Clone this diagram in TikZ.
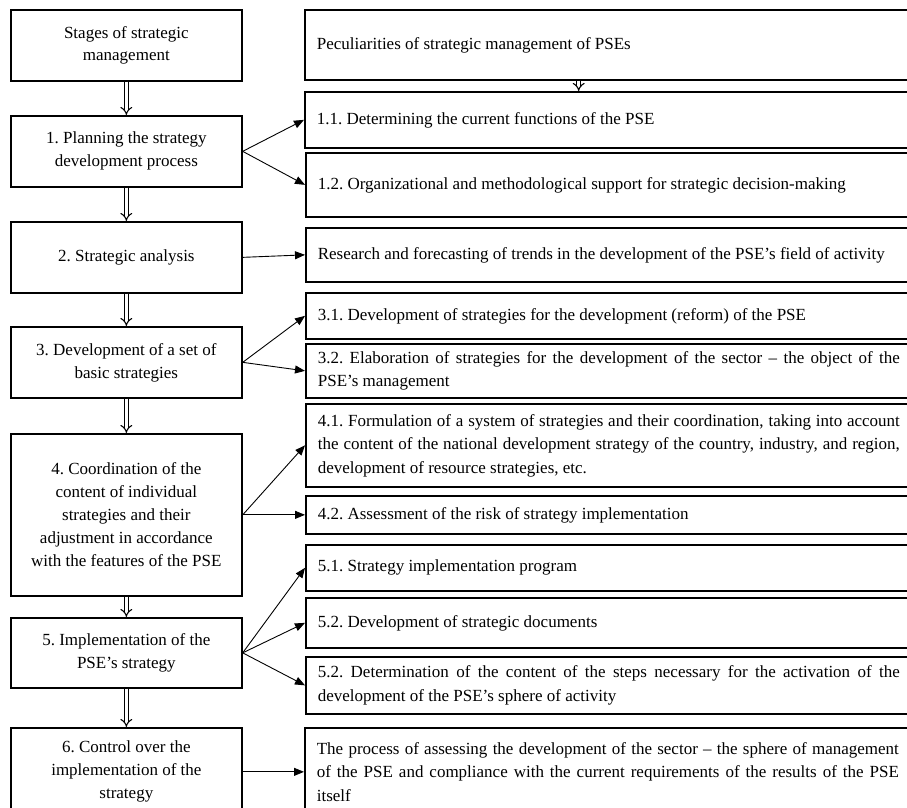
\documentclass[tikz,border=0pt]{standalone}
\usepackage{fontspec}
\setmainfont{Liberation Serif}
\usetikzlibrary{arrows.meta,calc}
\frenchspacing
\begin{document}
\begin{tikzpicture}[x=1pt,y=-1pt,
 lbox/.style={draw, line width=1.7pt, anchor=north west, minimum width=231pt, inner sep=0pt, align=center, font=\fontsize{17}{23}\selectfont},
 rbox/.style={draw, line width=1.7pt, anchor=north west, inner xsep=12pt, inner ysep=0pt, text width=582pt, align=justify, font=\fontsize{17}{23.5}\selectfont},
 arr/.style={line width=0.9pt, -{Triangle[length=10pt,width=8pt]}},
 dbl/.style={double, double distance=3pt, line width=1.1pt, -{Implies}}]
\useasboundingbox (0,0) rectangle (907,808);
\clip (0,0) rectangle (907,808);
% left column
\node[lbox, minimum height=71pt] (s0) at (10,9) {Stages of strategic\\management};
\node[lbox, minimum height=71pt] (s1) at (10,115) {1. Planning the strategy\\development process};
\node[lbox, minimum height=71pt] (s2) at (10,221) {2. Strategic analysis};
\node[lbox, minimum height=71pt] (s3) at (10,326) {3. Development of a set of\\basic strategies};
\node[lbox, minimum height=162pt] (s4) at (10,433) {4. Coordination of the\\content of individual\\strategies and their\\adjustment in accordance\\with the features of the PSE};
\node[lbox, minimum height=70pt] (s5) at (10,617) {5. Implementation of the\\PSE’s strategy};
\node[lbox, minimum height=88pt] (s6) at (10,727) {6. Control over the\\implementation of the\\strategy};
% right column
\node[rbox, minimum height=70pt] (pec) at (304,9) {Peculiarities of strategic management of PSEs};
\node[rbox, minimum height=56pt] (r11) at (304,91) {1.1. Determining the current functions of the PSE};
\node[rbox, minimum height=64pt] (r12) at (305,152) {1.2. Organizational and methodological support for strategic decision-making};
\node[rbox, minimum height=54pt] (rres) at (305,227) {Research and forecasting of trends in the development of the PSE’s field of activity};
\node[rbox, minimum height=46pt] (r31) at (305,292) {3.1. Development of strategies for the development (reform) of the PSE};
\node[rbox, minimum height=54pt] (r32) at (305,343) {3.2. Elaboration of strategies for the development of the sector -- the object of the\linebreak PSE’s management};
\node[rbox, minimum height=83pt] (r41) at (305,403) {4.1. Formulation of a system of strategies and their coordination, taking into account\linebreak the content of the national development strategy of the country, industry, and region,\linebreak development of resource strategies, etc.};
\node[rbox, minimum height=38pt] (r42) at (305,495) {4.2. Assessment of the risk of strategy implementation};
\node[rbox, minimum height=46pt] (r51) at (305,544) {5.1. Strategy implementation program};
\node[rbox, minimum height=50pt] (r52) at (305,597) {5.2. Development of strategic documents};
\node[rbox, minimum height=57pt] (r53) at (305,656) {5.2. Determination of the content of the steps necessary for the activation of the\linebreak development of the PSE’s sphere of activity};
\node[rbox, minimum height=88pt] (r6) at (304,727) {The process of assessing the development of the sector -- the sphere of management\linebreak of the PSE and compliance with the current requirements of the results of the PSE\linebreak itself};
% double arrows
\draw[dbl] (s0.south) -- (s1.north);
\draw[dbl] (s1.south) -- (s2.north);
\draw[dbl] (s2.south) -- (s3.north);
\draw[dbl] (s3.south) -- (s4.north);
\draw[dbl] (s4.south) -- (s5.north);
\draw[dbl] (s5.south) -- (s6.north);
\draw[dbl] ($(pec.south west)!0.452!(pec.south east)$) -- ($(r11.north west)!0.452!(r11.north east)$);
% arrows
\draw[arr] (s1.east) -- (r11.west);
\draw[arr] (s1.east) -- (r12.west);
\draw[arr] (s2.east) -- (rres.west);
\draw[arr] (s3.east) -- (r31.west);
\draw[arr] (s3.east) -- (r32.west);
\draw[arr] (s4.east) -- (r41.west);
\draw[arr] (s4.east) -- (r42.west);
\draw[arr] (s5.east) -- (r51.west);
\draw[arr] (s5.east) -- (r52.west);
\draw[arr] (s5.east) -- (r53.west);
\draw[arr] (s6.east) -- (r6.west);
\end{tikzpicture}
\end{document}
